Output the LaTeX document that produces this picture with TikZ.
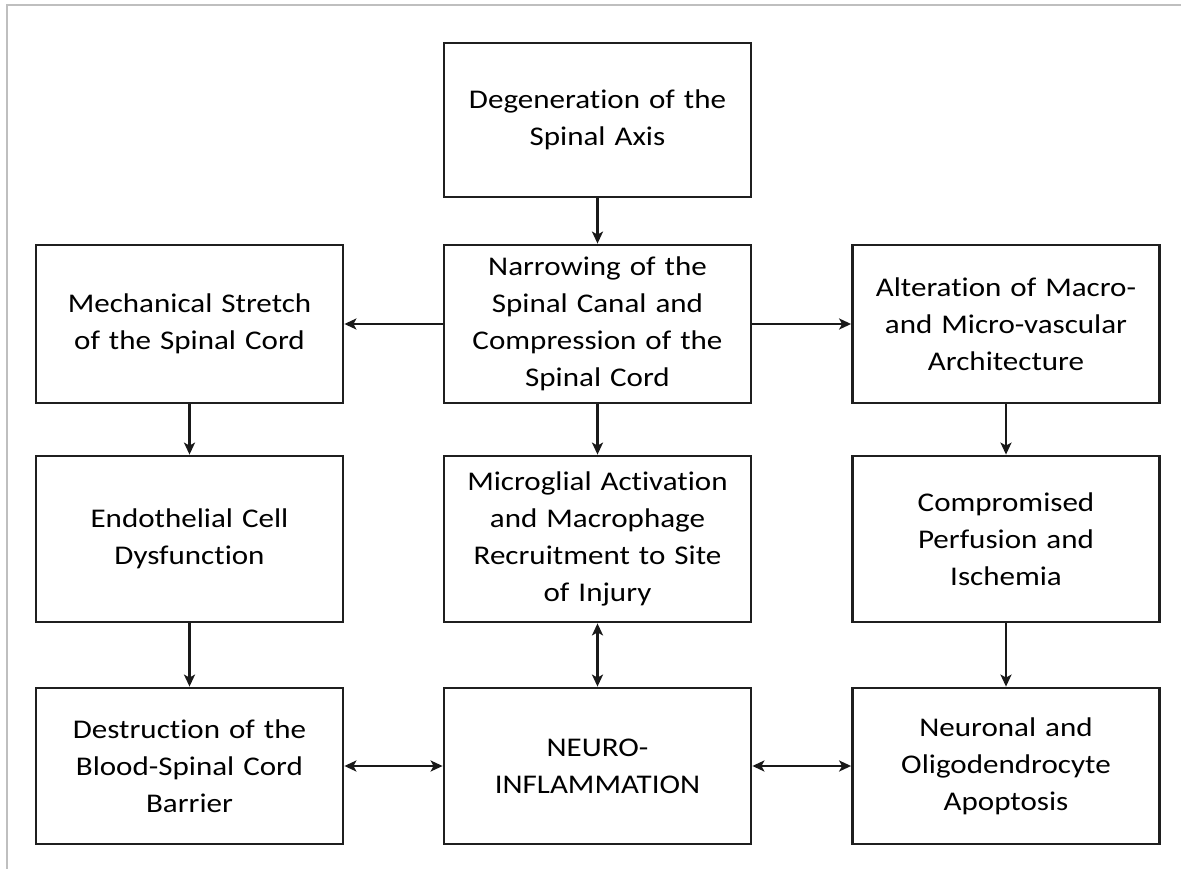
\documentclass[tikz,border=0pt]{standalone}
\usepackage{fontspec}
\setmainfont[FakeStretch=1.15,RawFeature={-liga;-clig;-dlig;-calt}]{Carlito}
\usetikzlibrary{arrows.meta}
\begin{document}
\begin{tikzpicture}[x=1pt,y=-1pt,
  box/.style={draw=black!88, line width=2.8pt, fill=white, inner sep=0pt,
    minimum width=307pt, text width=300pt, align=center,
    font=\fontsize{27}{37}\selectfont},
  tip/.tip={Stealth[length=12pt,width=11pt,inset=3pt]},
  conn/.style={draw=black!90, line width=2.4pt, -tip},
  dconn/.style={draw=black!90, line width=2.4pt, tip-tip},
  frame/.style={draw=black!25, line width=2pt}]
\useasboundingbox (0,0) rectangle (1181,869);
\draw[frame] (7,869) -- (7,5) -- (1181,5);
% top
\node[box, minimum height=154pt] (deg) at (597.5,120) {Degeneration of the\\Spinal Axis};
% row 2
\node[box, minimum height=158pt] (mech) at (189.5,324) {Mechanical Stretch\\of the Spinal Cord};
\node[box, minimum height=158pt] (narr) at (597.5,324) {Narrowing of the\\Spinal Canal and\\Compression of the\\Spinal Cord};
\node[box, minimum height=158pt] (alt) at (1006,324) {Alteration of Macro-\\and Micro-vascular\\Architecture};
% row 3
\node[box, minimum height=166pt] (endo) at (189.5,539) {Endothelial Cell\\Dysfunction};
\node[box, minimum height=166pt] (micro) at (597.5,539) {Microglial Activation\\and Macrophage\\Recruitment to Site\\of Injury};
\node[box, minimum height=166pt] (comp) at (1006,539) {Compromised\\Perfusion and\\Ischemia};
% row 4
\node[box, minimum height=156pt] (dest) at (189.5,766) {Destruction of the\\Blood-Spinal Cord\\Barrier};
\node[box, minimum height=156pt] (neuro) at (597.5,766) {NEURO-\\INFLAMMATION};
\node[box, minimum height=156pt] (apop) at (1006,766) {Neuronal and\\Oligodendrocyte\\Apoptosis};
% connectors
\draw[conn] (deg) -- (narr);
\draw[conn] (narr) -- (mech);
\draw[conn] (narr) -- (alt);
\draw[conn] (mech) -- (endo);
\draw[conn] (endo) -- (dest);
\draw[conn] (narr) -- (micro);
\draw[conn] (alt) -- (comp);
\draw[conn] (comp) -- (apop);
\draw[dconn] (micro) -- (neuro);
\draw[dconn] (dest) -- (neuro);
\draw[dconn] (neuro) -- (apop);
\end{tikzpicture}
\end{document}
